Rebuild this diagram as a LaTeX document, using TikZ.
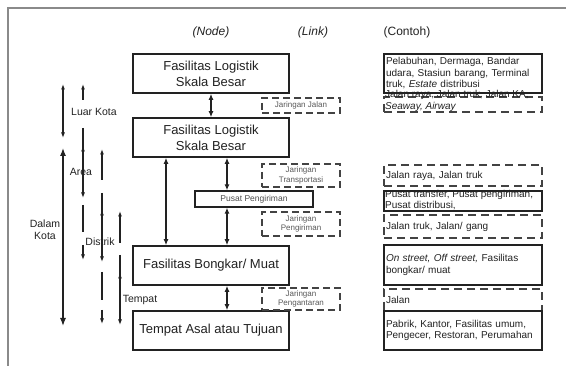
\documentclass[tikz,border=0pt]{standalone}
\usepackage{fontspec}
\setmainfont{Liberation Sans}
\usetikzlibrary{arrows.meta}
\definecolor{ink}{HTML}{222222}
\definecolor{framegray}{HTML}{8A8A8A}
\begin{document}
\begin{tikzpicture}[x=1pt,y=-1pt,
  >={Latex[length=5.5pt,width=4pt]},
  mainbox/.style={draw=ink, line width=1.6pt, minimum width=156pt, minimum height=39pt, inner sep=0pt, align=center, text=ink, font=\fontsize{13}{16}\selectfont},
  smallbox/.style={draw=ink, line width=1.4pt, minimum width=118pt, minimum height=16pt, inner sep=0pt, text=ink!80, font=\fontsize{8.5}{10}\selectfont},
  linkbox/.style={draw=ink!85, line width=1.5pt, dash pattern=on 7pt off 4pt, minimum width=78pt, inner sep=1pt, align=center, text=ink!75, font=\fontsize{8}{9.5}\selectfont},
  cbox/.style={draw=ink, line width=1.5pt, minimum width=158pt, text width=154pt, align=left, inner xsep=2pt, inner ysep=0pt, text=ink, font=\fontsize{10}{11.5}\selectfont},
  cdash/.style={cbox, draw=ink!85, dash pattern=on 8pt off 5pt},
  ctext/.style={inner sep=0pt, align=left, text=ink, font=\fontsize{10}{11.5}\selectfont},
  hdr/.style={inner sep=0pt, text=ink, font=\fontsize{12}{14}\selectfont},
  lbl/.style={inner sep=0pt, align=center, text=ink, font=\fontsize{10.5}{12}\selectfont},
  conn/.style={draw=ink, line width=1.4pt, {Latex[length=6pt,width=5pt]}-{Latex[length=6pt,width=5pt]}},
  la/.style={draw=ink, line width=1.1pt}
]
\useasboundingbox (0,0) rectangle (566,366);
\fill[white] (0,0) rectangle (566,366);
% frame
\draw[framegray, line width=1.5pt] (8,366) -- (8,8) -- (566,8);

% headers
\node[hdr] (hnode) at (211,32) {\itshape (Node)};
\node[hdr] (hlink) at (313,32) {\itshape (Link)};
\node[hdr] (hcont) at (407,32) {(Contoh)};

% node column
\node[mainbox] (b1) at (211,73.5) {Fasilitas Logistik\\Skala Besar};
\node[mainbox] (b2) at (211,137.5) {Fasilitas Logistik\\Skala Besar};
\node[smallbox] (ps) at (254,199) {Pusat Pengiriman};
\node[mainbox] (b4) at (211,265.5) {Fasilitas Bongkar/ Muat};
\node[mainbox] (b5) at (211,330.5) {Tempat Asal atau Tujuan};

% connectors
\draw[conn] (b1.south) -- (b2.north);
\draw[conn] (166,0 |- b2.south) -- (166,0 |- b4.north);
\draw[conn] (227,0 |- b2.south) -- (227,0 |- ps.north);
\draw[conn] (227,0 |- ps.south) -- (227,0 |- b4.north);
\draw[conn] (227,0 |- b4.south) -- (227,0 |- b5.north);

% link column
\node[linkbox, minimum height=15pt] (l1) at (301,105.5) {Jaringan Jalan};
\node[linkbox, minimum height=23pt] (l2) at (301,175.5) {Jaringan\\Transportasi};
\node[linkbox, minimum height=24pt] (l3) at (301,224) {Jaringan\\Pengiriman};
\node[linkbox, minimum height=22pt] (l4) at (301,299) {Jaringan\\Pengantaran};

% contoh column
\node[cbox, minimum height=39pt] (cA) at (463,73.5) {Pelabuhan, Dermaga, Bandar\\udara, Stasiun barang, Terminal\\truk, \textit{Estate} distribusi};
\node[cdash, minimum height=15pt] (cB) at (463,104.5) {};
\node[ctext, anchor=west] (cBt) at (385,101) {Jalan raya, Jalan truk, Jalan KA,\\\textit{Seaway, Airway}};
\node[cdash, minimum height=21pt] (cC) at (463,175.5) {Jalan raya, Jalan truk};
\node[cbox, minimum height=20pt] (cD) at (463,201) {};
\node[ctext, anchor=west] (cDt) at (385,200) {Pusat transfer, Pusat pengiriman,\\Pusat distribusi,};
\node[cdash, minimum height=23pt] (cE) at (463,226.5) {Jalan truk, Jalan/ gang};
\node[cbox, minimum height=40pt] (cF) at (463,265) {\textit{On street, Off street,} Fasilitas\\bongkar/ muat};
\node[cdash, minimum height=22pt] (cG) at (463,300) {Jalan};
\node[cbox, minimum height=39pt] (cH) at (463,330.5) {Pabrik, Kantor, Fasilitas umum,\\Pengecer, Restoran, Perumahan};

% left scale labels
\node[lbl] (tluar) at (94,112) {Luar Kota};
\node[lbl] (tarea) at (81,172) {Area};
\node[lbl] (tdalam) at (45,230) {Dalam\\Kota};
\node[lbl] (tdist) at (100,242) {Distrik};
\node[lbl] (ttemp) at (140,300) {Tempat};

% column 1
\draw[la, <->] (63,84) -- (63,138);
\draw[la, line width=1.2pt, {Latex[length=8pt,width=6pt]}-{Latex[length=8pt,width=6pt]}] (63,148) -- (63,326);
% column 2
\draw[la, <-] (83,84) -- (83,100);
\draw[la, ->] (83,128) -- (83,198);
\draw[la, ->] (83,158) -- (83,146);
\draw[la] (83,205) -- (83,232);
\draw[la, ->] (83,245) -- (83,260);
% column 3
\draw[la, <-] (102,149) -- (102,180);
\draw[la, ->] (102,193) -- (102,262);
\draw[la, ->] (102,222) -- (102,210);
\draw[la] (102,272) -- (102,300);
\draw[la, ->] (102,310) -- (102,324);
% column 4
\draw[la, <-] (120,211) -- (120,243);
\draw[la, ->] (120,255) -- (120,325);
\draw[la, ->] (120,285) -- (120,273);
\end{tikzpicture}
\end{document}
